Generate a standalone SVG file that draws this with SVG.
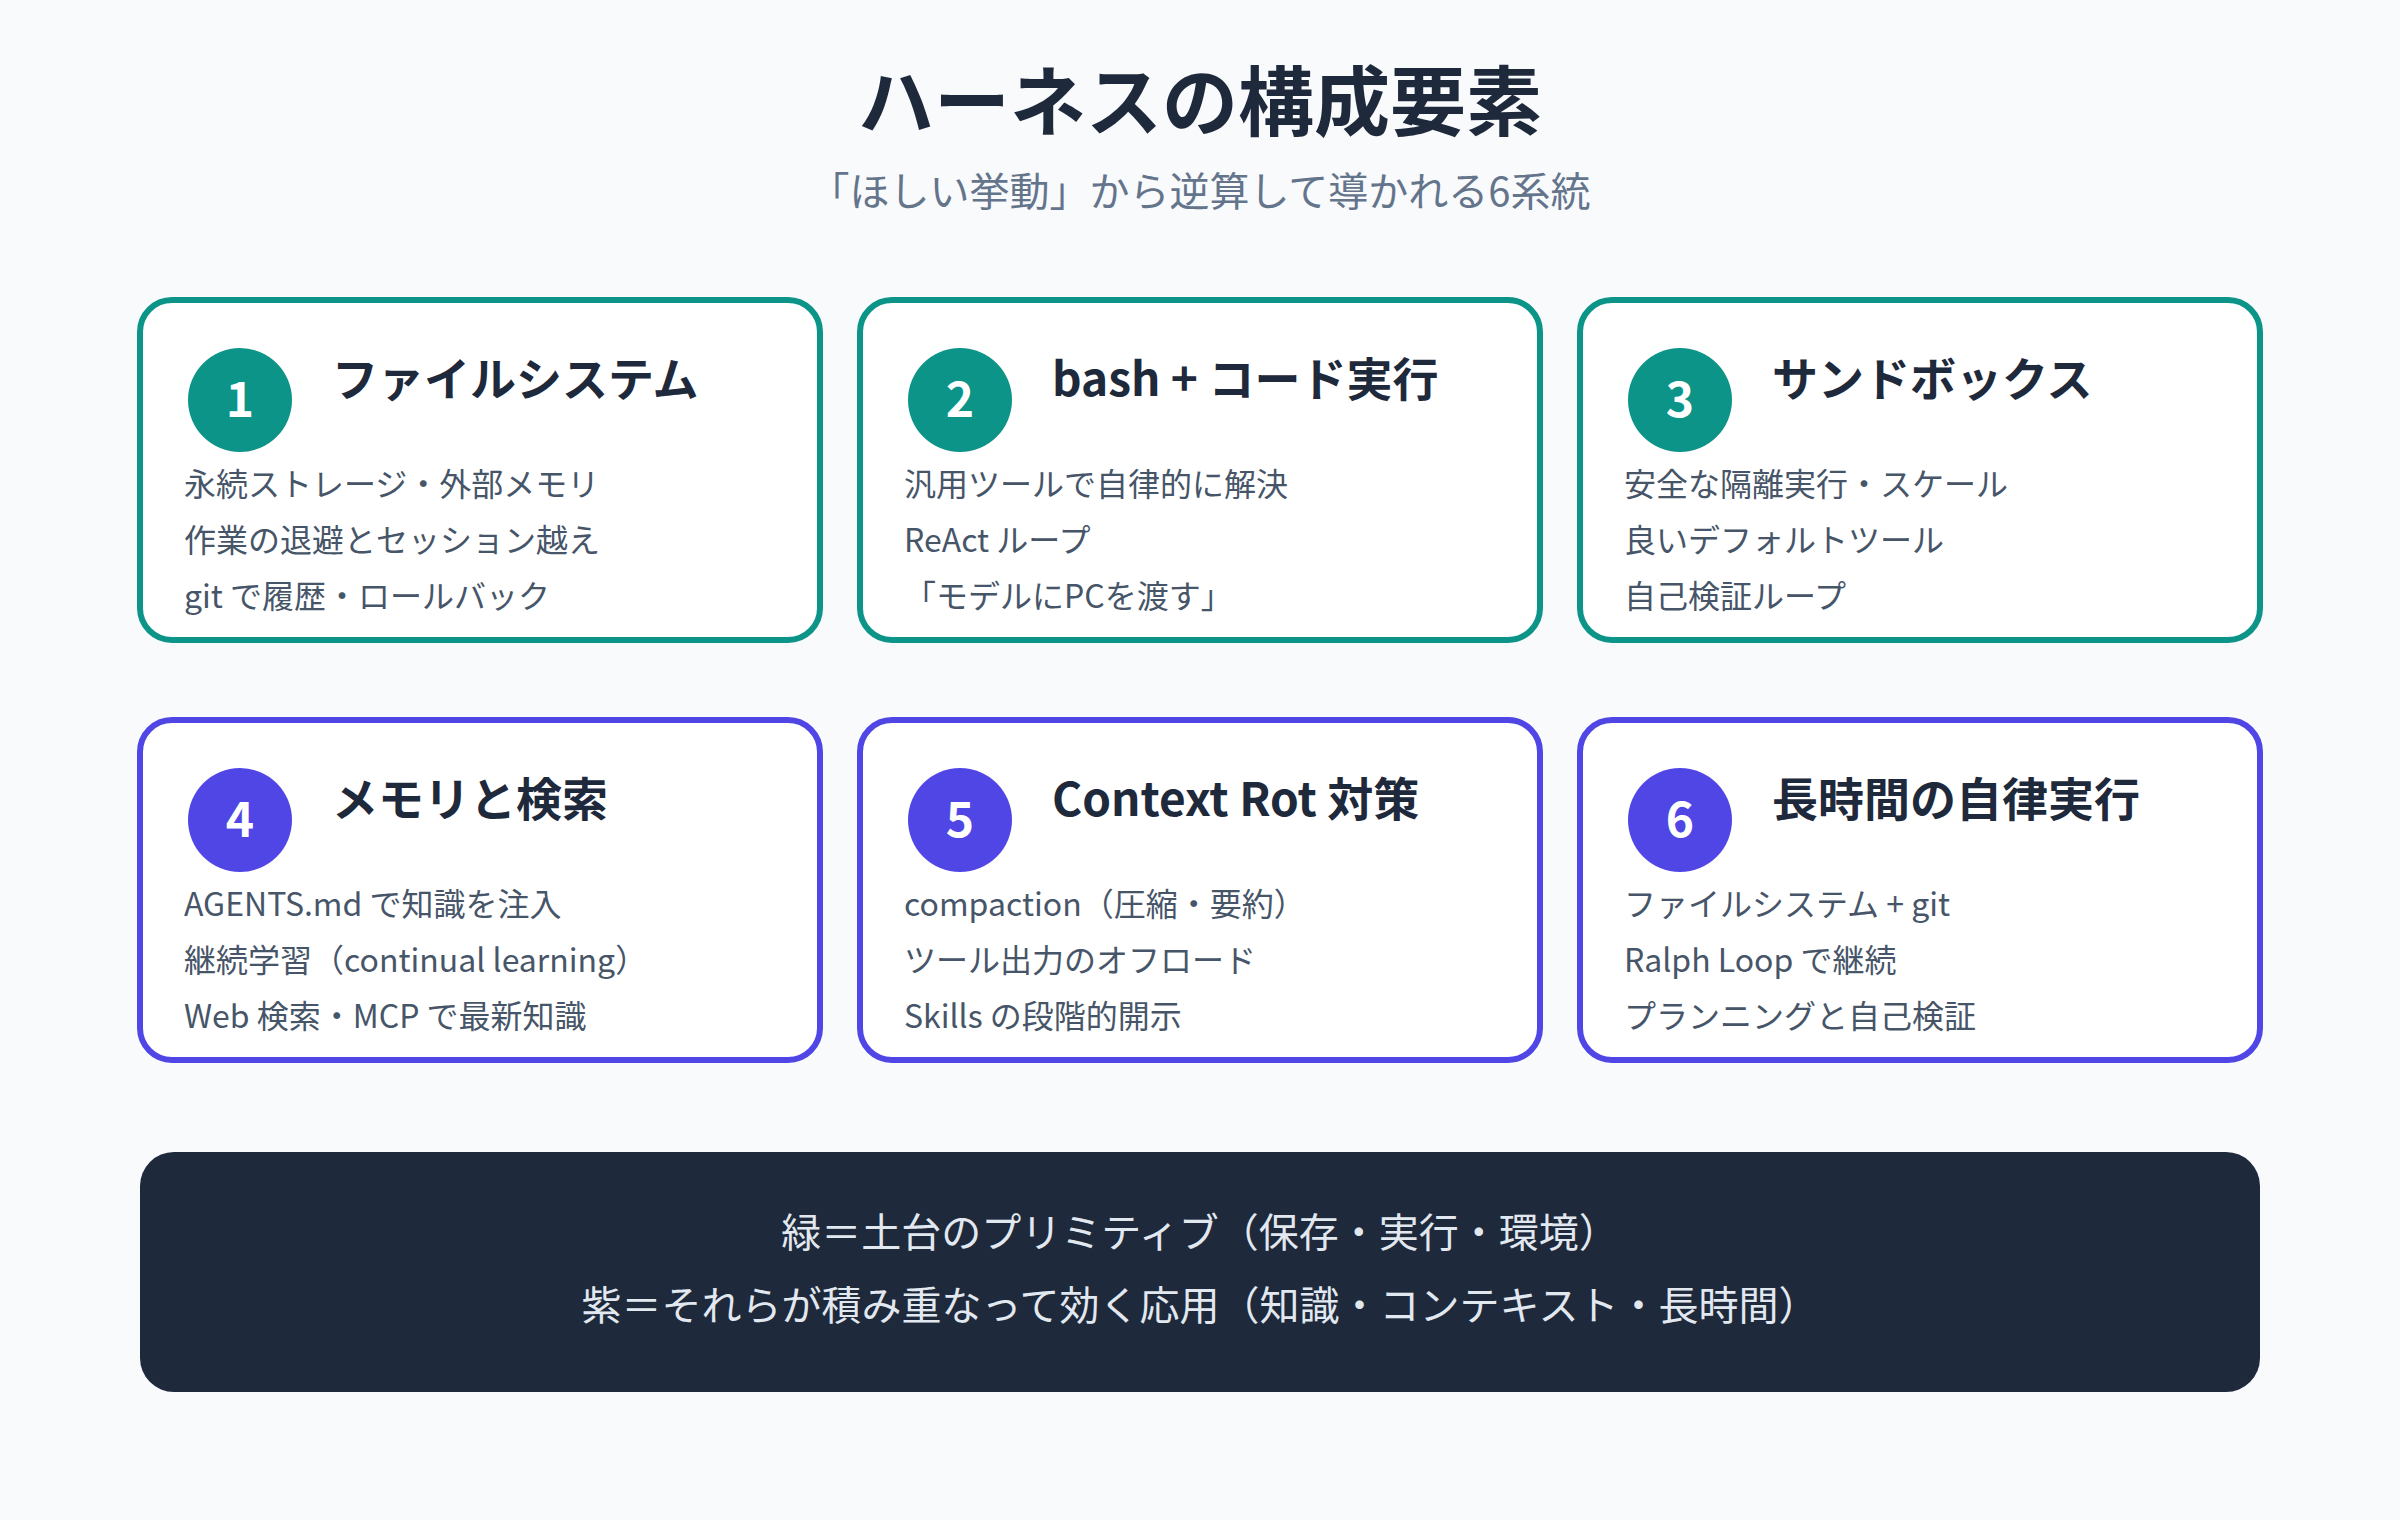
<svg xmlns="http://www.w3.org/2000/svg" width="2400" height="1520" viewBox="0 0 2400 1520">
<style>
text{font-family:"Noto Sans CJK JP","Noto Sans",sans-serif}
.title{font-size:76px;font-weight:700;fill:#1e293b}
.sub{font-size:40px;fill:#64748b}
.card{fill:#ffffff;stroke-width:6}
.g .card{stroke:#0d9488}
.p .card{stroke:#4f46e5}
.g .badge{fill:#0d9488}
.p .badge{fill:#4f46e5}
.num{font-size:48px;font-weight:700;fill:#ffffff}
.head{font-size:46px;font-weight:700;fill:#1e293b}
.body{font-size:32px;fill:#475569}
.note{font-size:40px;fill:#e2e8f0}
</style>
<rect width="2400" height="1520" fill="#f8fafc"/>
<g id="header">
<text class="title" x="1200" y="130" text-anchor="middle">ハーネスの構成要素</text>
<text class="sub" x="1200" y="206" text-anchor="middle">「ほしい挙動」から逆算して導かれる6系統</text>
</g>
<g id="connectors"></g>
<g id="node1" class="g" transform="translate(140,300)">
<rect class="card" width="680" height="340" rx="32"/>
<circle class="badge" cx="100" cy="100" r="52"/>
<text class="num" x="100" y="117" text-anchor="middle">1</text>
<text class="head" x="192" y="96">ファイルシステム</text>
<text class="body" x="44" y="196">永続ストレージ・外部メモリ</text>
<text class="body" x="44" y="252">作業の退避とセッション越え</text>
<text class="body" x="44" y="308">git で履歴・ロールバック</text>
</g>
<g id="node2" class="g" transform="translate(860,300)">
<rect class="card" width="680" height="340" rx="32"/>
<circle class="badge" cx="100" cy="100" r="52"/>
<text class="num" x="100" y="117" text-anchor="middle">2</text>
<text class="head" x="192" y="96">bash + コード実行</text>
<text class="body" x="44" y="196">汎用ツールで自律的に解決</text>
<text class="body" x="44" y="252">ReAct ループ</text>
<text class="body" x="44" y="308">「モデルにPCを渡す」</text>
</g>
<g id="node3" class="g" transform="translate(1580,300)">
<rect class="card" width="680" height="340" rx="32"/>
<circle class="badge" cx="100" cy="100" r="52"/>
<text class="num" x="100" y="117" text-anchor="middle">3</text>
<text class="head" x="192" y="96">サンドボックス</text>
<text class="body" x="44" y="196">安全な隔離実行・スケール</text>
<text class="body" x="44" y="252">良いデフォルトツール</text>
<text class="body" x="44" y="308">自己検証ループ</text>
</g>
<g id="node4" class="p" transform="translate(140,720)">
<rect class="card" width="680" height="340" rx="32"/>
<circle class="badge" cx="100" cy="100" r="52"/>
<text class="num" x="100" y="117" text-anchor="middle">4</text>
<text class="head" x="192" y="96">メモリと検索</text>
<text class="body" x="44" y="196">AGENTS.md で知識を注入</text>
<text class="body" x="44" y="252">継続学習（continual learning）</text>
<text class="body" x="44" y="308">Web 検索・MCP で最新知識</text>
</g>
<g id="node5" class="p" transform="translate(860,720)">
<rect class="card" width="680" height="340" rx="32"/>
<circle class="badge" cx="100" cy="100" r="52"/>
<text class="num" x="100" y="117" text-anchor="middle">5</text>
<text class="head" x="192" y="96">Context Rot 対策</text>
<text class="body" x="44" y="196">compaction（圧縮・要約）</text>
<text class="body" x="44" y="252">ツール出力のオフロード</text>
<text class="body" x="44" y="308">Skills の段階的開示</text>
</g>
<g id="node6" class="p" transform="translate(1580,720)">
<rect class="card" width="680" height="340" rx="32"/>
<circle class="badge" cx="100" cy="100" r="52"/>
<text class="num" x="100" y="117" text-anchor="middle">6</text>
<text class="head" x="192" y="96">長時間の自律実行</text>
<text class="body" x="44" y="196">ファイルシステム + git</text>
<text class="body" x="44" y="252">Ralph Loop で継続</text>
<text class="body" x="44" y="308">プランニングと自己検証</text>
</g>
<g id="legend">
<rect x="140" y="1152" width="2120" height="240" rx="34" fill="#1e293b"/>
<text class="note" x="1200" y="1247" text-anchor="middle">緑＝土台のプリミティブ（保存・実行・環境）</text>
<text class="note" x="1200" y="1320" text-anchor="middle">紫＝それらが積み重なって効く応用（知識・コンテキスト・長時間）</text>
</g>
</svg>
